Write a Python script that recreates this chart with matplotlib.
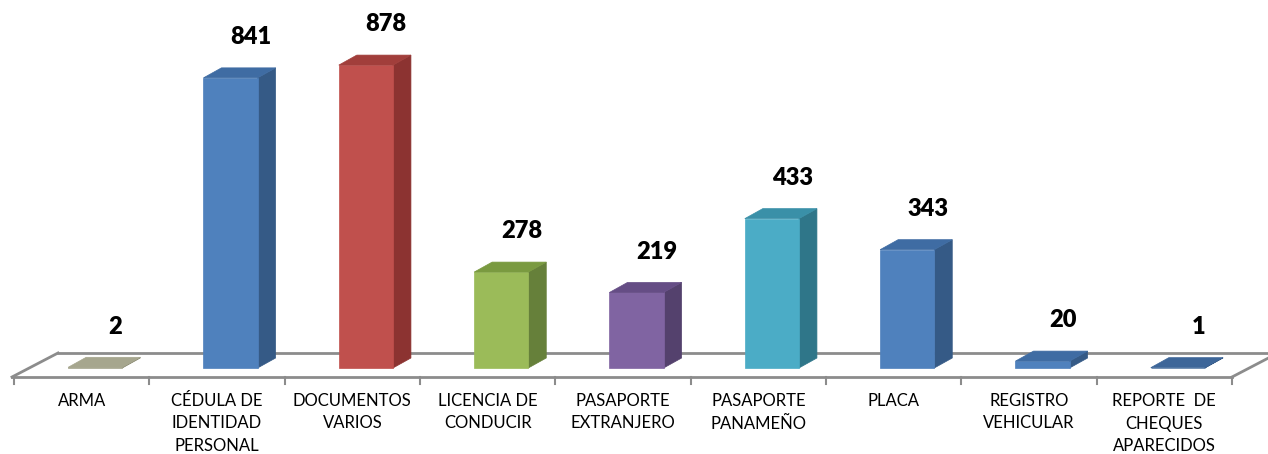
import matplotlib
matplotlib.use("Agg")
import matplotlib.pyplot as plt
from matplotlib.patches import Polygon

# datos
categorias = ["ARMA", "CÉDULA DE\nIDENTIDAD\nPERSONAL", "DOCUMENTOS\nVARIOS",
              "LICENCIA DE\nCONDUCIR", "PASAPORTE\nEXTRANJERO", "PASAPORTE\nPANAMEÑO",
              "PLACA", "REGISTRO\nVEHICULAR", "REPORTE  DE\nCHEQUES\nAPARECIDOS"]
valores = [2, 841, 878, 278, 219, 433, 343, 20, 1]
etiquetas = ["2", "841", "878", "278", "219", "433", "343", "20", "1"]

# colores: frente, lado, tapa
colores = [
    ("#A6A68E", "#8A8A72", "#A6A68E"),
    ("#4F81BD", "#355A86", "#3F6CA3"),
    ("#C0504D", "#8C3331", "#A13E3B"),
    ("#9BBB59", "#66803A", "#7A9A40"),
    ("#8064A2", "#54416D", "#654D85"),
    ("#4BACC6", "#2F7689", "#3A90A8"),
    ("#4F81BD", "#355A86", "#3F6CA3"),
    ("#4F81BD", "#355A86", "#3F6CA3"),
    ("#3D6699", "#2E4F78", "#3D6699"),
]

W, H = 12.68, 4.54
px_x = 1218 / 9.0      # pixeles por categoria
px_y = 0.345           # pixeles por unidad de valor
base_px = 368          # y del cero (desde arriba)

fig = plt.figure(figsize=(W, H), dpi=100)
ax = fig.add_axes([0, 0, 1, 1])
ax.set_xlim(-0.5 - 14 / px_x, 8.5 + 36 / px_x)
ax.set_ylim(-(454 - base_px) / px_y, base_px / px_y)
ax.axis("off")

# piso
fy0 = -9 / px_y
fy1 = 15 / px_y
fdx = 46 / px_x
gris = "#8C8C8C"
n = len(categorias)
ax.plot([-0.5 - 2 / px_x, n - 0.5], [fy0, fy0], color=gris, lw=2, zorder=1)
ax.plot([-0.5 - 2 / px_x + fdx, n - 0.5 + fdx], [fy1, fy1], color=gris, lw=2, zorder=1)
ax.plot([-0.5 - 2 / px_x, -0.5 - 2 / px_x + fdx], [fy0, fy1], color=gris, lw=2, zorder=1)
ax.plot([n - 0.5, n - 0.5 + fdx], [fy0, fy1], color=gris, lw=2, zorder=1)
for i in range(n + 1):
    ax.plot([i - 0.5, i - 0.5], [fy0, fy0 - 7 / px_y], color=gris, lw=1.5, zorder=1)

# barras 3d
off = 0.1
bw = 0.4
ddx = 18 / px_x
ddy = 10 / px_y
for i, v in enumerate(valores):
    fc, sc, tc = colores[i]
    x0 = i + off - bw / 2
    x1 = i + off + bw / 2
    front = [(x0, 0), (x1, 0), (x1, v), (x0, v)]
    side = [(x1, 0), (x1 + ddx, ddy), (x1 + ddx, v + ddy), (x1, v)]
    top = [(x0, v), (x1, v), (x1 + ddx, v + ddy), (x0 + ddx, v + ddy)]
    ax.add_patch(Polygon(side, closed=True, fc=sc, ec=sc, lw=0.5, zorder=3))
    ax.add_patch(Polygon(front, closed=True, fc=fc, ec=fc, lw=0.5, zorder=3))
    ax.add_patch(Polygon(top, closed=True, fc=tc, ec=tc, lw=0.5, zorder=4))
    ax.text(i + 0.25, v + 118, etiquetas[i], ha="center", va="center",
            fontsize=17, fontweight="heavy", family="Lato", color="black", zorder=5)
    ax.text(i, -25 / px_y, categorias[i], ha="center", va="top",
            fontsize=12, family="Lato", color="black", linespacing=1.5)

fig.savefig("out.png", dpi=100)
